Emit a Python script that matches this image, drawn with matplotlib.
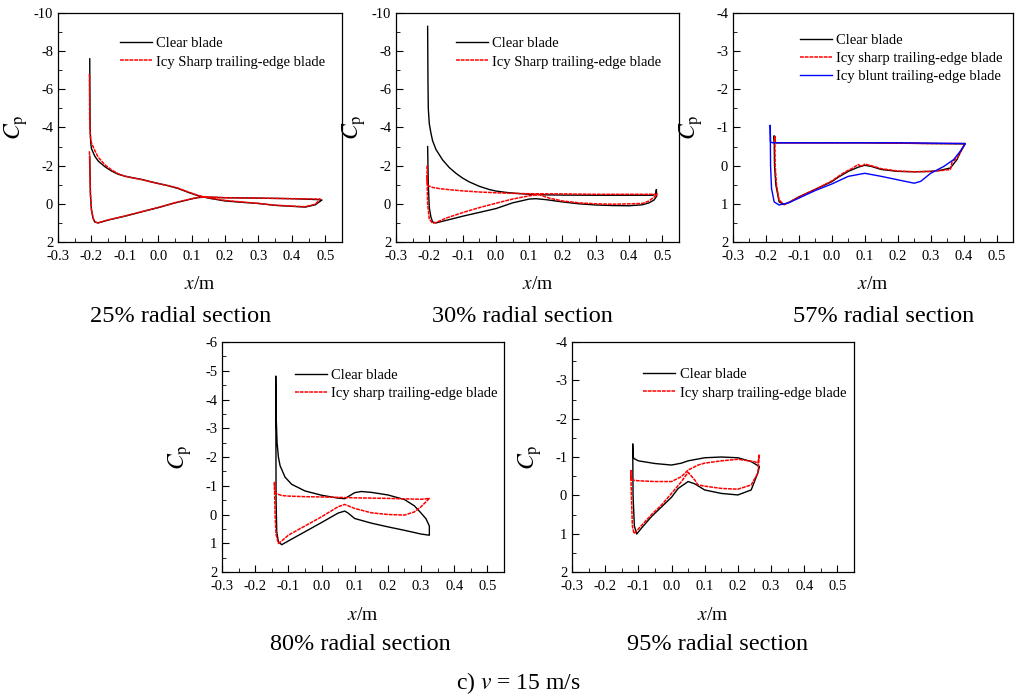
import matplotlib
matplotlib.use('Agg')
import matplotlib.pyplot as plt
from matplotlib.ticker import MultipleLocator

plt.rcParams['font.family'] = ['Liberation Serif', 'DejaVu Serif']
plt.rcParams['mathtext.fontset'] = 'stix'
plt.rcParams['axes.unicode_minus'] = False

# ---- 25% radial section ----
r25_clear_x = [-0.205, -0.204, -0.202, -0.2, -0.19, -0.18, -0.16, -0.14, -0.12, -0.1, -0.08, -0.05, -0.02, 0.0,
               0.03, 0.06, 0.09, 0.12, 0.15, 0.2, 0.25, 0.3, 0.35, 0.4, 0.44, 0.47, 0.49,
               0.48, 0.4, 0.3, 0.2, 0.15, 0.12, 0.1, 0.05, 0.0, -0.05, -0.1, -0.15, -0.18, -0.19, -0.195, -0.2,
               -0.203, -0.205]
r25_clear_cp = [-7.6, -4.0, -3.2, -2.9, -2.5, -2.25, -1.95, -1.72, -1.55, -1.45, -1.38, -1.28, -1.15, -1.07,
                -0.95, -0.8, -0.6, -0.42, -0.3, -0.15, -0.08, -0.02, 0.08, 0.13, 0.17, 0.05, -0.2,
                -0.22, -0.27, -0.3, -0.32, -0.35, -0.33, -0.26, -0.05, 0.2, 0.42, 0.65, 0.85, 1.0, 0.95, 0.75, 0.3,
                -0.5, -2.5]
r25_icy_x = [-0.206, -0.205, -0.203, -0.2, -0.19, -0.18, -0.16, -0.14, -0.12, -0.1, -0.08, -0.05, -0.02, 0.0,
             0.03, 0.06, 0.09, 0.12, 0.15, 0.2, 0.25, 0.3, 0.35, 0.4, 0.44, 0.47, 0.485,
             0.48, 0.4, 0.3, 0.2, 0.15, 0.12, 0.1, 0.05, 0.0, -0.05, -0.1, -0.15, -0.18, -0.19, -0.195, -0.2,
             -0.203, -0.206]
r25_icy_cp = [-6.8, -4.2, -3.5, -3.2, -2.8, -2.45, -2.05, -1.78, -1.58, -1.45, -1.37, -1.27, -1.14, -1.06,
              -0.95, -0.82, -0.62, -0.44, -0.32, -0.18, -0.1, -0.02, 0.07, 0.12, 0.15, 0.02, -0.25,
              -0.25, -0.27, -0.3, -0.32, -0.36, -0.34, -0.27, -0.06, 0.19, 0.41, 0.64, 0.84, 1.0, 0.95, 0.75, 0.3,
              -0.6, -2.8]

# ---- 30% radial section ----
r30_clear_x = [-0.205, -0.204, -0.203, -0.2, -0.195, -0.19, -0.18, -0.16, -0.14, -0.12, -0.1, -0.08, -0.05,
               -0.02, 0.0, 0.03, 0.06, 0.1, 0.15, 0.2, 0.3, 0.4, 0.47, 0.48, 0.482, 0.483,
               0.475, 0.46, 0.44, 0.4, 0.35, 0.3, 0.25, 0.2, 0.15, 0.12, 0.1, 0.05, 0.0, -0.05, -0.1, -0.15, -0.18,
               -0.19, -0.195, -0.2, -0.203, -0.205]
r30_clear_cp = [-9.3, -6.5, -5.0, -4.2, -3.7, -3.3, -2.85, -2.3, -1.9, -1.6, -1.35, -1.15, -0.92,
                -0.75, -0.67, -0.6, -0.55, -0.5, -0.47, -0.46, -0.45, -0.45, -0.45, -0.5, -0.75, -0.4,
                -0.2, -0.05, 0.05, 0.1, 0.09, 0.06, 0.0, -0.1, -0.22, -0.27, -0.25, -0.05, 0.25, 0.45, 0.65, 0.87,
                1.0, 0.95, 0.7, 0.2, -1.0, -3.0]
r30_icy_x = [-0.207, -0.206, -0.205, -0.2, -0.19, -0.17, -0.15, -0.1, -0.05, 0.0, 0.05, 0.1, 0.2, 0.3, 0.4,
             0.485, 0.475, 0.46, 0.44, 0.4, 0.35, 0.3, 0.25, 0.2, 0.16, 0.13, 0.1, 0.05, 0.0, -0.05, -0.1,
             -0.15, -0.18, -0.19, -0.2, -0.205, -0.207]
r30_icy_cp = [-2.0, -1.2, -1.0, -0.92, -0.86, -0.8, -0.76, -0.68, -0.62, -0.58, -0.55, -0.53, -0.52, -0.5,
              -0.5, -0.5, -0.35, -0.15, -0.02, 0.0, 0.02, 0.0, -0.05, -0.15, -0.3, -0.48, -0.42, -0.25, -0.03,
              0.2, 0.46, 0.75, 0.98, 1.02, 0.8, 0.0, -1.5]

# ---- 57% radial section ----
r57_clear_x = [-0.175, -0.174, -0.17, -0.1, 0.0, 0.1, 0.2, 0.3, 0.405,
               0.4, 0.39, 0.38, 0.36, 0.33, 0.3, 0.25, 0.2, 0.15, 0.12, 0.1, 0.08, 0.05, 0.02, 0.0, -0.05, -0.1,
               -0.13, -0.145, -0.16, -0.17, -0.174, -0.175]
r57_clear_cp = [-0.77, -0.62, -0.6, -0.6, -0.6, -0.6, -0.59, -0.58, -0.57,
                -0.5, -0.35, -0.16, 0.06, 0.12, 0.15, 0.16, 0.15, 0.1, 0.02, -0.01, 0.04, 0.15, 0.3, 0.42, 0.62,
                0.82, 0.96, 1.02, 0.95, 0.5, 0.0, -0.77]
r57_icy_x = [-0.173, -0.172, -0.168, -0.1, 0.0, 0.1, 0.2, 0.3, 0.403,
             0.4, 0.39, 0.38, 0.365, 0.36, 0.33, 0.3, 0.25, 0.2, 0.15, 0.12, 0.1, 0.09, 0.08, 0.06, 0.05, 0.03,
             0.0, -0.05, -0.1, -0.13, -0.145, -0.16, -0.168, -0.172, -0.173]
r57_icy_cp = [-0.78, -0.62, -0.6, -0.6, -0.6, -0.6, -0.59, -0.58, -0.58,
              -0.5, -0.35, -0.2, -0.1, 0.1, 0.13, 0.15, 0.16, 0.14, 0.08, 0.0, -0.04, 0.02, -0.03, 0.08, 0.12,
              0.22, 0.4, 0.62, 0.82, 0.96, 1.02, 0.9, 0.5, 0.0, -0.78]
r57_blunt_x = [-0.187, -0.186, -0.18, -0.1, 0.0, 0.1, 0.2, 0.3, 0.405,
               0.39, 0.37, 0.34, 0.3, 0.27, 0.25, 0.2, 0.15, 0.1, 0.05, 0.0, -0.05, -0.1, -0.13, -0.16, -0.175,
               -0.183, -0.186, -0.187]
r57_blunt_cp = [-1.05, -0.62, -0.6, -0.6, -0.6, -0.6, -0.6, -0.59, -0.58,
                -0.38, -0.16, 0.02, 0.2, 0.41, 0.46, 0.37, 0.28, 0.2, 0.28, 0.48, 0.65, 0.85, 0.97, 1.03, 0.95,
                0.6, 0.0, -1.05]

# ---- 80% radial section ----
r80_clear_x = [-0.138, -0.137, -0.134, -0.13, -0.125, -0.11, -0.09, -0.05, 0.0, 0.05, 0.07, 0.08, 0.1, 0.12,
               0.15, 0.2, 0.25, 0.28, 0.3, 0.315, 0.325, 0.325,
               0.3, 0.25, 0.2, 0.15, 0.1, 0.08, 0.07, 0.05, 0.0, -0.05, -0.1, -0.12, -0.13, -0.135, -0.137, -0.138]
r80_clear_cp = [-4.8, -3.5, -2.5, -2.0, -1.7, -1.3, -1.05, -0.82, -0.67, -0.57, -0.55, -0.62, -0.76, -0.8,
                -0.77, -0.68, -0.52, -0.3, -0.05, 0.15, 0.4, 0.72,
                0.68, 0.55, 0.43, 0.3, 0.14, -0.05, -0.12, -0.05, 0.28, 0.6, 0.92, 1.05, 0.95, 0.6, -0.5, -4.8]
r80_icy_x = [-0.142, -0.141, -0.135, -0.12, -0.1, -0.05, 0.0, 0.1, 0.2, 0.3, 0.325,
             0.32, 0.3, 0.28, 0.25, 0.2, 0.15, 0.1, 0.07, 0.05, 0.0, -0.05, -0.1, -0.12, -0.13, -0.137, -0.14,
             -0.142]
r80_icy_cp = [-1.14, -0.8, -0.72, -0.66, -0.64, -0.62, -0.61, -0.58, -0.56, -0.53, -0.56,
              -0.5, -0.27, -0.09, 0.02, 0.0, -0.06, -0.21, -0.35, -0.27, 0.08, 0.4, 0.72, 0.92, 1.01, 0.7, 0.0,
              -1.1]

# ---- 95% radial section ----
r95_clear_x = [-0.117, -0.116, -0.113, -0.1, -0.05, 0.0, 0.03, 0.05, 0.1, 0.15, 0.2, 0.24, 0.265,
               0.26, 0.24, 0.2, 0.15, 0.1, 0.07, 0.05, 0.02, 0.0, -0.03, -0.06, -0.09, -0.105, -0.112, -0.116,
               -0.117]
r95_clear_cp = [-1.33, -1.0, -0.96, -0.9, -0.83, -0.79, -0.84, -0.9, -0.98, -1.0, -0.98, -0.88, -0.75,
                -0.58, -0.14, -0.01, -0.05, -0.14, -0.3, -0.36, -0.18, 0.05, 0.3, 0.55, 0.85, 1.01, 0.8, 0.0,
                -1.33]
r95_icy_x = [-0.123, -0.122, -0.12, -0.1, -0.05, 0.0, 0.03, 0.05, 0.08, 0.1, 0.15, 0.2, 0.25, 0.26, 0.265,
             0.26, 0.24, 0.2, 0.15, 0.1, 0.08, 0.07, 0.05, 0.03, 0.0, -0.03, -0.06, -0.09, -0.113, -0.118,
             -0.121, -0.123]
r95_icy_cp = [-0.66, -0.45, -0.4, -0.38, -0.36, -0.36, -0.49, -0.66, -0.79, -0.84, -0.9, -0.94, -0.88, -0.84,
              -1.07, -0.58, -0.27, -0.16, -0.18, -0.24, -0.27, -0.4, -0.6, -0.36, -0.05, 0.25, 0.5, 0.78, 1.0,
              0.8, 0.0, -0.66]

section_titles = ['25% radial section', '30% radial section', '57% radial section',
                  '80% radial section', '95% radial section']
y_limits = [(-10, 2), (-10, 2), (-4, 2), (-6, 2), (-4, 2)]
y_steps = [2, 2, 1, 1, 1]

fig = plt.figure(figsize=(10.21, 6.97), dpi=100)
W, H = 1021, 697
boxes = [(58, 13, 284, 229), (396, 13, 283, 229), (733, 13, 280, 229),
         (222, 342, 282, 230), (572, 342, 282, 230)]
axes = [fig.add_axes([l / W, 1 - (t + h) / H, w / W, h / H]) for l, t, w, h in boxes]

icy_style = dict(color='red', lw=1.1, ls=(0, (2.5, 0.6)))
clear_style = dict(color='black', lw=1.0)
blunt_style = dict(color='blue', lw=1.0)

panels = [
    [(r25_clear_x, r25_clear_cp, 'Clear blade', clear_style),
     (r25_icy_x, r25_icy_cp, 'Icy Sharp trailing-edge blade', icy_style)],
    [(r30_clear_x, r30_clear_cp, 'Clear blade', clear_style),
     (r30_icy_x, r30_icy_cp, 'Icy Sharp trailing-edge blade', icy_style)],
    [(r57_clear_x, r57_clear_cp, 'Clear blade', clear_style),
     (r57_icy_x, r57_icy_cp, 'Icy sharp trailing-edge blade', icy_style),
     (r57_blunt_x, r57_blunt_cp, 'Icy blunt trailing-edge blade', blunt_style)],
    [(r80_clear_x, r80_clear_cp, 'Clear blade', clear_style),
     (r80_icy_x, r80_icy_cp, 'Icy sharp trailing-edge blade', icy_style)],
    [(r95_clear_x, r95_clear_cp, 'Clear blade', clear_style),
     (r95_icy_x, r95_icy_cp, 'Icy sharp trailing-edge blade', icy_style)],
]
legend_anchor = [(0.218, 0.895), (0.212, 0.895), (0.239, 0.91), (0.259, 0.883), (0.252, 0.887)]
title_pos = [(181, 316), (522, 316), (884, 316), (360, 645), (718, 645)]

for n, ax in enumerate(axes):
    for x, cp, label, style in panels[n]:
        ax.plot(x, cp, label=label, **style)
    ax.set_xlim(-0.3, 0.55)
    ax.set_ylim(y_limits[n][1], y_limits[n][0])  # inverted Cp axis
    ax.xaxis.set_minor_locator(MultipleLocator(0.05))
    ax.yaxis.set_major_locator(MultipleLocator(y_steps[n]))
    ax.yaxis.set_minor_locator(MultipleLocator(y_steps[n] / 2))
    ax.set_xticks([v / 10 for v in range(-3, 6)])
    ax.set_xticklabels(['%.1f' % (v / 10) for v in range(-3, 6)])
    ax.tick_params(which='both', direction='in', top=False, right=False, labelsize=10.5)
    ax.tick_params(which='major', length=5)
    ax.tick_params(which='minor', length=3)
    ax.tick_params(axis='x', pad=6)
    for sp in ax.spines.values():
        sp.set_linewidth(0.9)
    ax.set_xlabel(r'$x$/m', fontsize=14)
    ax.xaxis.set_label_coords(0.5, -0.15)
    ax.set_ylabel(r'$C_{\mathrm{p}}$', fontsize=17, va='center')
    ax.yaxis.set_label_coords(-0.148, 0.5)
    ax.legend(loc='upper left', bbox_to_anchor=legend_anchor[n], frameon=False, fontsize=10.5,
              handlelength=2.2, handletextpad=0.3, labelspacing=0.35, borderpad=0, borderaxespad=0)
    tx, ty = title_pos[n]
    fig.text(tx / W, 1 - ty / H, section_titles[n], fontsize=17.5, ha='center', va='center')

fig.text(518 / W, 1 - 683 / H, r'c) $v$ = 15 m/s', fontsize=17, ha='center', va='center')

fig.savefig('out.png', dpi=100)
